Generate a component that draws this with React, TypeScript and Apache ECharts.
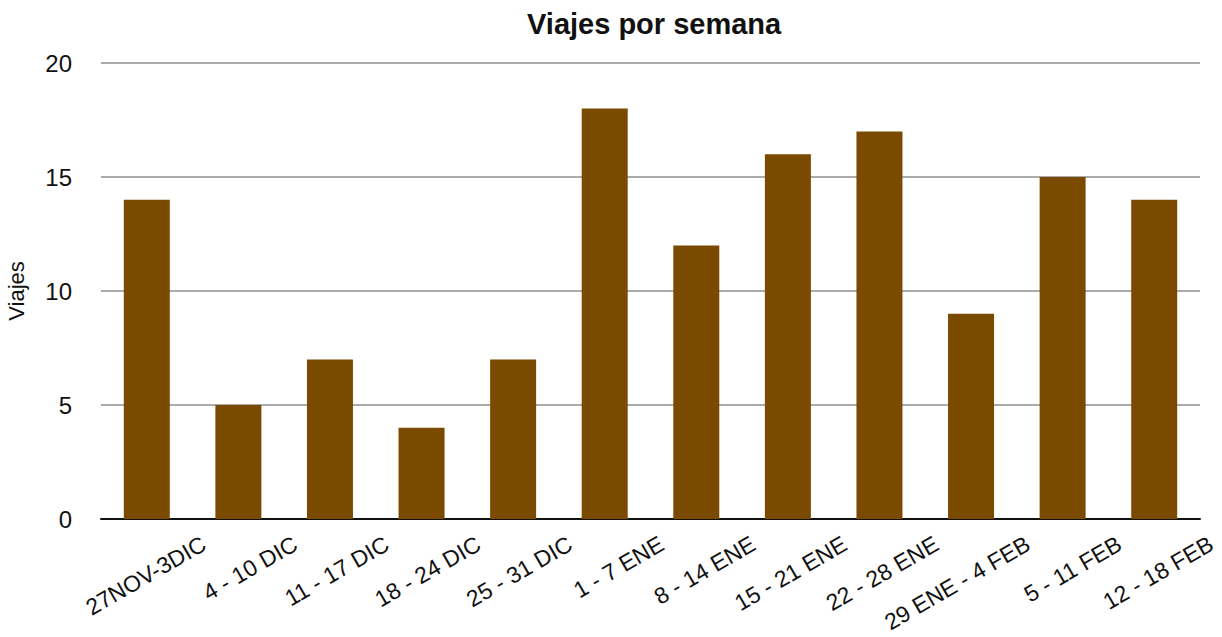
import React, { useEffect, useRef } from "react";
import * as echarts from "echarts";

const title = "Viajes por semana";
const yAxisName = "Viajes";
const weeks = [
  "27NOV-3DIC",
  "4 - 10 DIC",
  "11 - 17 DIC",
  "18 - 24 DIC",
  "25 - 31 DIC",
  "1 - 7 ENE",
  "8 - 14 ENE",
  "15 - 21 ENE",
  "22 - 28 ENE",
  "29 ENE - 4 FEB",
  "5 - 11 FEB",
  "12 - 18 FEB",
];
const trips = [14, 5, 7, 4, 7, 18, 12, 16, 17, 9, 15, 14];
const yMin = 0;
const yMax = 20;
const yStep = 5;

const FONT = "'Liberation Sans', Arial, Helvetica, sans-serif";
const BAR_COLOR = "#7a4a00";
const LABEL_SHIFT = 57;
const G_LEFT = 101;
const G_RIGHT = 22;

export default function App() {
  const ref = useRef<HTMLDivElement | null>(null);

  useEffect(() => {
    if (!ref.current) return;
    const chart = echarts.init(ref.current, undefined, { renderer: "svg" });
    chart.setOption({
      animation: false,
      backgroundColor: "#ffffff",
      textStyle: { fontFamily: FONT },
      title: {
        text: title,
        left: 522,
        top: 4,
        textStyle: { fontFamily: FONT, fontSize: 29, fontWeight: "bold", color: "#111" },
      },
      grid: [
        { left: G_LEFT, right: G_RIGHT, top: 63, bottom: 118, outerBoundsMode: "none", containLabel: false },
        {
          left: G_LEFT + LABEL_SHIFT,
          right: G_RIGHT - LABEL_SHIFT,
          top: 63,
          bottom: 118,
          outerBoundsMode: "none",
          containLabel: false,
        },
      ],
      xAxis: [
        {
          type: "category",
          gridIndex: 0,
          data: weeks,
          axisLine: { show: true, lineStyle: { color: "#111", width: 2 } },
          axisTick: { show: false },
          axisLabel: { show: false },
          splitLine: { show: false },
        },
        {
          type: "category",
          gridIndex: 1,
          data: weeks,
          axisLine: { show: false },
          axisTick: { show: false },
          splitLine: { show: false },
          axisLabel: {
            show: true,
            interval: 0,
            rotate: 30,
            margin: 23,
            fontSize: 23,
            color: "#111",
            fontFamily: FONT,
            hideOverlap: false,
          },
        },
      ],
      yAxis: [
        {
          type: "value",
          gridIndex: 0,
          min: yMin,
          max: yMax,
          interval: yStep,
          name: yAxisName,
          nameLocation: "middle",
          nameGap: 74,
          nameTextStyle: { fontFamily: FONT, fontSize: 22, color: "#111" },
          axisLine: { show: false },
          axisTick: { show: false },
          axisLabel: { fontSize: 24, color: "#111", margin: 29, fontFamily: FONT },
          splitLine: { show: true, lineStyle: { color: "#ababab", width: 2 } },
        },
        {
          type: "value",
          gridIndex: 1,
          min: yMin,
          max: yMax,
          show: false,
          splitLine: { show: false },
        },
      ],
      series: [
        {
          type: "bar",
          xAxisIndex: 0,
          yAxisIndex: 0,
          data: trips,
          barWidth: 46,
          itemStyle: { color: BAR_COLOR },
        },
      ],
    });
    return () => chart.dispose();
  }, []);

  return (
    <div
      ref={ref}
      style={{ position: "fixed", left: 0, top: 0, width: 1222, height: 637 }}
    />
  );
}
